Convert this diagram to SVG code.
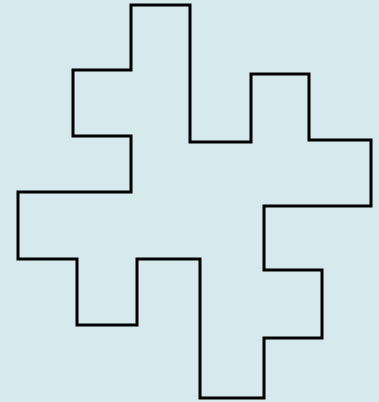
<svg xmlns="http://www.w3.org/2000/svg" width="379" height="402" viewBox="0 0 379 402">
<style>.outline{fill:none;stroke:#000;stroke-width:3;stroke-linejoin:miter;}</style>
<rect x="0" y="0" width="379" height="402" fill="#d6eaed"/>
<g id="shape">
<polygon class="outline" points="131,5 190,5 190,142 251,142 251,74 309,74 309,140 371,140 371,206 264,206 264,270 322,270 322,338 264,338 264,398 200,398 200,259 137,259 137,325 77,325 77,259 18,259 18,192 131,192 131,136 73,136 73,70 131,70"/>
</g>
</svg>
